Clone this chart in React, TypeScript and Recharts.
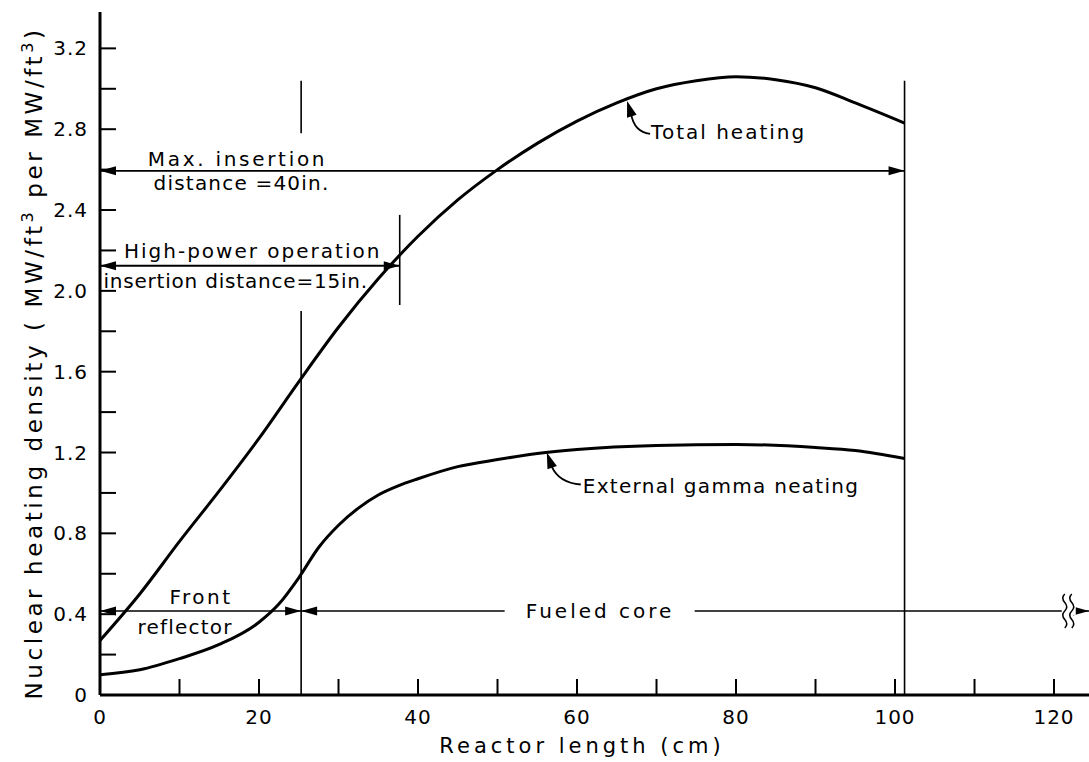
import { LineChart, Line, XAxis, YAxis, ReferenceLine, ReferenceDot, Label } from 'recharts';

// curves (x in cm, y in MW/ft3 per MW/ft3)
const totalX = [0, 5, 10, 15, 20, 25, 30, 35, 40, 45, 50, 55, 60, 65, 70, 75, 80, 85, 90, 95, 101.2];
const totalY = [0.27, 0.5, 0.76, 1.01, 1.27, 1.55, 1.82, 2.06, 2.27, 2.45, 2.6, 2.73, 2.84, 2.93, 3.0, 3.04, 3.06, 3.045, 3.005, 2.93, 2.83];

const gammaX = [0, 5, 10, 15, 20, 22.5, 25, 27.5, 30, 32.5, 35, 37.5, 40, 45, 50, 55, 60, 70, 80, 90, 95, 101.2];
const gammaY = [0.1, 0.125, 0.18, 0.25, 0.36, 0.45, 0.58, 0.73, 0.84, 0.925, 0.99, 1.035, 1.07, 1.13, 1.165, 1.195, 1.215, 1.235, 1.24, 1.225, 1.21, 1.17];

const xTicks = [0, 10, 20, 30, 40, 50, 60, 70, 80, 90, 100, 110, 120];
const yTicks = [0, 0.2, 0.4, 0.6, 0.8, 1.0, 1.2, 1.4, 1.6, 1.8, 2.0, 2.2, 2.4, 2.6, 2.8, 3.0, 3.2];

const totalData = totalX.map((x, i) => ({ x, y: totalY[i] }));
const gammaData = gammaX.map((x, i) => ({ x, y: gammaY[i] }));

// annotation text: [x, y, text, dx, dy, fontSize, letterSpacing, anchor]
const notes: [number, number, string, number, number, number, number, string][] = [
  [17.3, 2.594, 'Max. insertion', 0, -5, 20, 2.7, 'middle'],
  [17.3, 2.594, 'distance =40in.', 4, 19, 20, 1.2, 'middle'],
  [18.2, 2.124, 'High-power operation', 8, -8, 20, 2, 'middle'],
  [18.2, 2.124, 'insertion distance=15in.', -9, 22, 20, 0.8, 'middle'],
  [12.7, 0.416, 'Front', 0, -7, 20, 2.5, 'middle'],
  [10.7, 0.416, 'reflector', 0, 23, 20, 1.2, 'middle'],
  [62.9, 0.416, 'Fueled core', 0, 7, 20, 3, 'middle'],
];

const FONT = '"DejaVu Sans", sans-serif';

const head = (x: number, y: number, dx: number, dy: number, len = 16, w = 4.5) => {
  const n = Math.hypot(dx, dy);
  const ux = dx / n;
  const uy = dy / n;
  const bx = x - ux * len;
  const by = y - uy * len;
  return `${x},${y} ${bx - uy * w},${by + ux * w} ${bx + uy * w},${by - ux * w}`;
};

const arrowLine = (start: boolean, end: boolean, width = 1.6) => (p: any) => {
  const { x1, y1, x2, y2 } = p;
  return (
    <g>
      <line x1={x1} y1={y1} x2={x2} y2={y2} stroke="#000" strokeWidth={width} />
      {start && <polygon points={head(x1, y1, x1 - x2, y1 - y2)} fill="#000" />}
      {end && <polygon points={head(x2, y2, x2 - x1, y2 - y1)} fill="#000" />}
    </g>
  );
};

const XTick = (p: any) => {
  const { x, y, payload } = p;
  const v = payload.value;
  return (
    <g>
      {v > 0 && <line x1={x} y1={y} x2={x} y2={y - 16} stroke="#000" strokeWidth={2} />}
      {v % 20 === 0 && (
        <text x={x} y={y + 29} textAnchor="middle" fontFamily={FONT} fontSize={20} letterSpacing={1} fill="#000">
          {v}
        </text>
      )}
    </g>
  );
};

const YTick = (p: any) => {
  const { x, y, payload } = p;
  const v = payload.value;
  const lab = Math.round(v * 10) % 4 === 0;
  return (
    <g>
      {v > 0 && <line x1={x} y1={y} x2={x + 16} y2={y} stroke="#000" strokeWidth={2} />}
      {lab && (
        <text x={x - 12} y={y + 7} textAnchor="end" fontFamily={FONT} fontSize={20} letterSpacing={1} fill="#000">
          {v === 0 ? '0' : v.toFixed(1)}
        </text>
      )}
    </g>
  );
};

const YTitle = () => (
  <text
    x={42}
    y={363}
    transform="rotate(-90, 42, 363)"
    textAnchor="middle"
    fontFamily={FONT}
    fontSize={23}
    letterSpacing={3.6}
    fill="#000"
  >
    Nuclear heating density ( MW/ft
    <tspan fontSize={16} dy={-9}>3</tspan>
    <tspan dy={9}> per MW/ft</tspan>
    <tspan fontSize={16} dy={-9}>3</tspan>
    <tspan dy={9}>)</tspan>
  </text>
);

const XTitle = () => (
  <text x={582} y={753} textAnchor="middle" fontFamily={FONT} fontSize={21} letterSpacing={4} fill="#000">
    Reactor length (cm)
  </text>
);

const leader = (tdx: number, tdy: number, text: string, ls: number, path: number[]) => (p: any) => {
  const { cx, cy } = p;
  const [a, b, c, d, e, f] = path;
  return (
    <g>
      <path d={`M${cx + a},${cy + b} Q${cx + c},${cy + d} ${cx + e},${cy + f}`} fill="none" stroke="#000" strokeWidth={1.8} />
      <polygon points={head(cx, cy, -e, -f, 16, 5)} fill="#000" />
      <text x={cx + tdx} y={cy + tdy} fontFamily={FONT} fontSize={20} letterSpacing={ls} fill="#000">
        {text}
      </text>
    </g>
  );
};

const squiggle = (p: any) => {
  const { cx, cy } = p;
  const wave = (x: number) =>
    `M${x},${cy - 17} q-4,4 0,8.5 q4,4.5 0,8.5 q-4,4 0,8.5 q4,4.5 0,8.5`;
  return (
    <g>
      <rect x={cx - 1} y={cy - 4} width={14} height={8} fill="#fff" />
      <path d={wave(cx + 2)} fill="none" stroke="#000" strokeWidth={1.5} />
      <path d={wave(cx + 9)} fill="none" stroke="#000" strokeWidth={1.5} />
    </g>
  );
};

export default function App() {
  return (
    <div style={{ position: 'absolute', left: 0, top: 0, background: '#fff' }}>
      <LineChart width={1089} height={762} margin={{ top: 12, right: 0, bottom: 0, left: 0 }}>
        <XAxis
          dataKey="x"
          type="number"
          domain={[0, 124.4]}
          ticks={xTicks}
          interval={0}
          tickLine={false}
          tickSize={0}
          tickMargin={0}
          tick={<XTick />}
          axisLine={{ stroke: '#000', strokeWidth: 3 }}
          height={67}
          allowDataOverflow
        >
          <Label content={<XTitle />} />
        </XAxis>
        <YAxis
          dataKey="y"
          type="number"
          domain={[0, 3.38]}
          ticks={yTicks}
          interval={0}
          tickLine={false}
          tickSize={0}
          tickMargin={0}
          tick={<YTick />}
          axisLine={{ stroke: '#000', strokeWidth: 3 }}
          width={100}
          allowDataOverflow
        >
          <Label content={<YTitle />} />
        </YAxis>

        {/* vertical boundaries */}
        <ReferenceLine segment={[{ x: 25.3, y: 3.04 }, { x: 25.3, y: 2.78 }]} shape={arrowLine(false, false)} />
        <ReferenceLine segment={[{ x: 25.3, y: 1.9 }, { x: 25.3, y: 0 }]} shape={arrowLine(false, false)} />
        <ReferenceLine segment={[{ x: 37.7, y: 2.376 }, { x: 37.7, y: 1.93 }]} shape={arrowLine(false, false)} />
        <ReferenceLine segment={[{ x: 101.2, y: 3.04 }, { x: 101.2, y: 0 }]} shape={arrowLine(false, false)} />

        {/* insertion distances */}
        <ReferenceLine segment={[{ x: 0, y: 2.594 }, { x: 101.2, y: 2.594 }]} shape={arrowLine(true, true)} />
        <ReferenceLine segment={[{ x: 0, y: 2.124 }, { x: 37.7, y: 2.124 }]} shape={arrowLine(true, true, 2)} />

        {/* front reflector / fueled core */}
        <ReferenceLine segment={[{ x: 0, y: 0.416 }, { x: 25.3, y: 0.416 }]} shape={arrowLine(true, true)} />
        <ReferenceLine segment={[{ x: 25.3, y: 0.416 }, { x: 50.9, y: 0.416 }]} shape={arrowLine(true, false)} />
        <ReferenceLine segment={[{ x: 74.8, y: 0.416 }, { x: 124.4, y: 0.416 }]} shape={arrowLine(false, true)} />
        <ReferenceDot x={121.1} y={0.416} shape={squiggle} ifOverflow="visible" />

        {notes.map(([x, y, t, dx, dy, fs, ls, anchor], i) => (
          <ReferenceDot
            key={i}
            x={x}
            y={y}
            shape={(p: any) => (
              <text
                x={p.cx + dx}
                y={p.cy + dy}
                textAnchor={anchor as any}
                fontFamily={FONT}
                fontSize={fs}
                letterSpacing={ls}
                fill="#000"
              >
                {t}
              </text>
            )}
          />
        ))}

        <Line data={totalData} dataKey="y" type="monotone" stroke="#000" strokeWidth={3} dot={false} isAnimationActive={false} />
        <Line data={gammaData} dataKey="y" type="monotone" stroke="#000" strokeWidth={3} dot={false} isAnimationActive={false} />

        <ReferenceDot x={66.3} y={2.94} shape={leader(24, 38, 'Total heating', 2, [23, 33, 7, 31, 4, 13])} />
        <ReferenceDot x={56.2} y={1.2} shape={leader(36, 40, 'External gamma neating', 1.3, [34, 32, 12, 30, 5, 14])} />
      </LineChart>
    </div>
  );
}
